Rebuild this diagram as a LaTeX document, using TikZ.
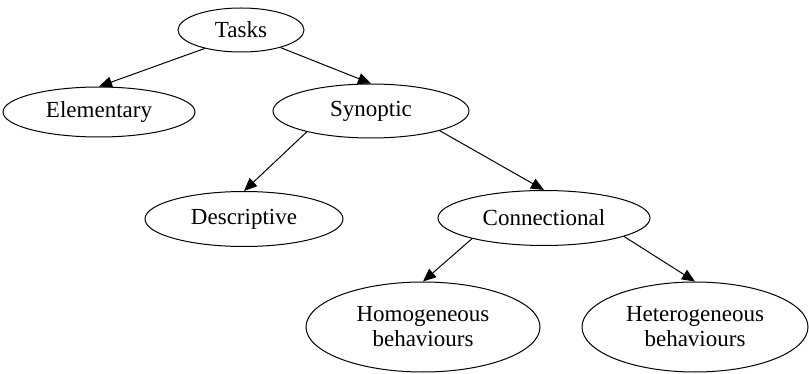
\documentclass[tikz,border=0pt]{standalone}
\usepackage{fontspec}
\setmainfont{Liberation Serif}
\usepackage{tikz}
\usetikzlibrary{positioning,shapes.geometric,arrows.meta}

\tikzset{
  task/.style={ellipse,draw,line width=1pt,inner sep=0pt,align=center,
    font=\fontsize{23}{25}\selectfont},
  link/.style={-{Triangle[length=13pt,width=11pt]},line width=1pt}
}

\begin{document}
\begin{tikzpicture}[on grid]

  \useasboundingbox (0,0) rectangle (809pt,-374pt);

  % Define nodes
  \node[task,minimum width=126pt,minimum height=44pt] (tasks) at (241pt,-30pt) {Tasks}; %
  \node[task,minimum width=192pt,minimum height=50pt, below left=82pt and 142pt of tasks] (elem) {Elementary}; %
  \node[task,minimum width=196pt,minimum height=54pt, below right=81pt and 130pt of tasks] (syn) {Synoptic}; %
  \node[task,minimum width=198pt,minimum height=55pt, below left=108pt and 127pt of syn] (desc) {Descriptive}; %
  \node[task,minimum width=212pt,minimum height=55pt, below right=107pt and 173pt of syn] (conn) {Connectional}; %
  \node[task,minimum width=234pt,minimum height=90pt, below left=109pt and 121pt of conn] (homo) {Homogeneous\\behaviours}; %
  \node[task,minimum width=226pt,minimum height=90pt, below right=109pt and 151pt of conn] (hetero) {Heterogeneous\\behaviours}; %

  % Edges
  \draw[link] (tasks.207) -- (elem.north);
  \draw[link] (tasks.-24) -- (syn.north);
  \draw[link] (syn.198) -- (desc.north);
  \draw[link] (syn.-16) -- (conn.north);
  \draw[link] (conn.196) -- (homo.north);
  \draw[link] (conn.-13) -- (hetero.north);

\end{tikzpicture}
\end{document}
